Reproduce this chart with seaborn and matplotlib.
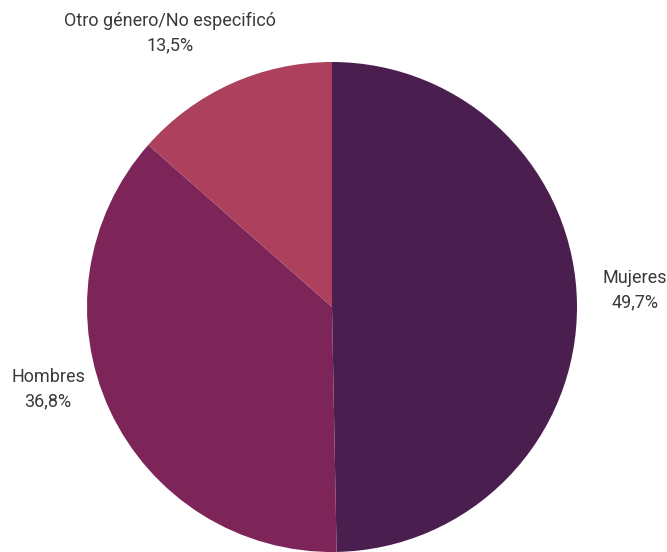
import matplotlib
matplotlib.use("Agg")
import matplotlib.pyplot as plt
import seaborn as sns

# Distribution by gender
categories = ["Mujeres", "Hombres", "Otro género/No especificó"]
shares = [49.7, 36.8, 13.5]
colors = ["#4a1f4f", "#7d2458", "#ad405d"]

sns.set_theme(style="white")
plt.rcParams["font.family"] = ["Roboto", "DejaVu Sans"]

W, H = 667, 552
fig = plt.figure(figsize=(W / 100, H / 100), dpi=100)
fig.patch.set_facecolor("white")

# pie occupies a square axes centred at (332, 307) px with radius 245 px
cx, cy, r = 332, 307, 245
ax = fig.add_axes([(cx - r) / W, (H - cy - r) / H, 2 * r / W, 2 * r / H])
ax.pie(shares, colors=colors, startangle=90, counterclock=False,
       radius=1.0, wedgeprops=dict(linewidth=0))
ax.set_xlim(-1, 1)
ax.set_ylim(-1, 1)
ax.set_aspect("equal")
ax.axis("off")

# label anchor points in pixel coordinates (centre of each text block)
label_px = [(635, 290), (48, 389), (170, 33)]
for name, val, (px, py) in zip(categories, shares, label_px):
    txt = f"{name}\n{val:.1f}%".replace(".", ",")
    fig.text(px / W, 1 - py / H, txt, ha="center", va="center",
             fontsize=13, color="#3a3a3a", linespacing=1.45)

fig.savefig("out.png", dpi=100)
